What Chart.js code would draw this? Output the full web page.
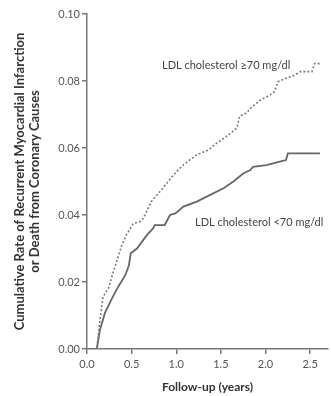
<!DOCTYPE html>
<html>
<head>
<meta charset="utf-8">
<script src="https://cdn.jsdelivr.net/npm/chart.js@4"></script>
<style>
  html, body { margin: 0; padding: 0; background: #fff; }
  #wrap { width: 331px; height: 396px; }
</style>
</head>
<body>
<div id="wrap"><canvas id="c" width="331" height="396"></canvas></div>
<script>
// Follow-up time (years) and cumulative rate, LDL cholesterol <70 mg/dl
const lowTime = [0, 0.11, 0.145, 0.20, 0.28, 0.35, 0.43, 0.47, 0.49, 0.56, 0.67, 0.74, 0.76, 0.87, 0.93, 0.99, 1.08, 1.23, 1.38, 1.53, 1.64, 1.75, 1.83, 1.86, 2.01, 2.16, 2.23, 2.25, 2.61];
const lowRate = [0, 0, 0.0057, 0.0107, 0.0151, 0.0186, 0.0221, 0.025, 0.0286, 0.0300, 0.0340, 0.036, 0.037, 0.037, 0.040, 0.0405, 0.0425, 0.044, 0.046, 0.048, 0.050, 0.0524, 0.0534, 0.0544, 0.0549, 0.0559, 0.0564, 0.0584, 0.0584];
// LDL cholesterol >=70 mg/dl
const highTime = [0, 0.11, 0.145, 0.18, 0.24, 0.29, 0.39, 0.44, 0.52, 0.59, 0.63, 0.72, 0.85, 0.97, 1.08, 1.23, 1.36, 1.45, 1.56, 1.68, 1.71, 1.79, 1.83, 1.94, 2.05, 2.10, 2.14, 2.23, 2.33, 2.39, 2.52, 2.55, 2.62];
const highRate = [0, 0, 0.0087, 0.0156, 0.0181, 0.0226, 0.031, 0.034, 0.0375, 0.038, 0.039, 0.044, 0.048, 0.052, 0.055, 0.058, 0.0594, 0.0614, 0.0634, 0.066, 0.0695, 0.0705, 0.0718, 0.0743, 0.0758, 0.0768, 0.0798, 0.0808, 0.0818, 0.0828, 0.0828, 0.0852, 0.0852];

const seriesLabels = ['LDL cholesterol \u226570 mg/dl', 'LDL cholesterol <70 mg/dl'];
// anchor of each series label (left edge, vertical centre) in data units
const labelTime = [0.84, 1.21];
const labelRate = [0.0845, 0.0379];

const xTicks = [0, 0.5, 1.0, 1.5, 2.0, 2.5];
const yTicks = [0, 0.02, 0.04, 0.06, 0.08, 0.10];
const xTitle = 'Follow-up (years)';
const yTitle = ['Cumulative Rate of Recurrent Myocardial Infarction', 'or Death from Coronary Causes'];

const toPts = (xs, ys) => xs.map((x, i) => ({x: x, y: ys[i]}));
const FONT = 'Lato, "Open Sans", sans-serif';

const labelPlugin = {
  id: 'seriesLabels',
  afterDatasetsDraw(chart) {
    const ctx = chart.ctx;
    const xs = chart.scales.x, ys = chart.scales.y;
    ctx.save();
    ctx.font = '11px ' + FONT;
    ctx.fillStyle = '#444';
    ctx.textAlign = 'left';
    ctx.textBaseline = 'middle';
    seriesLabels.forEach((t, i) => {
      ctx.fillText(t, xs.getPixelForValue(labelTime[i]), ys.getPixelForValue(labelRate[i]));
    });
    ctx.restore();
  }
};

new Chart(document.getElementById('c'), {
  type: 'line',
  data: {
    datasets: [
      {
        label: seriesLabels[0],
        data: toPts(highTime, highRate),
        borderColor: '#7a7a7a',
        borderWidth: 1.6,
        borderDash: [2, 2],
        pointRadius: 0,
        tension: 0,
        fill: false
      },
      {
        label: seriesLabels[1],
        data: toPts(lowTime, lowRate),
        borderColor: '#666',
        borderWidth: 1.8,
        pointRadius: 0,
        tension: 0,
        fill: false
      }
    ]
  },
  options: {
    responsive: false,
    animation: false,
    devicePixelRatio: 1,
    layout: { padding: { top: 14, right: 3, left: 0, bottom: 0 } },
    plugins: { legend: { display: false }, tooltip: { enabled: false } },
    scales: {
      x: {
        type: 'linear',
        min: 0,
        max: 2.7,
        afterBuildTicks: s => { s.ticks = xTicks.map(v => ({value: v})); },
        afterFit: s => { s.height = 47; },
        border: { display: true, color: '#777', width: 1.5 },
        grid: { drawOnChartArea: false, drawTicks: true, tickLength: 5, color: '#777', lineWidth: 1.5 },
        ticks: {
          color: '#555',
          font: { family: FONT, size: 11 },
          padding: 4,
          maxRotation: 0,
          callback: v => Number(v).toFixed(1)
        },
        title: {
          display: true,
          text: xTitle,
          color: '#333',
          font: { family: FONT, size: 12, weight: 'bold' },
          padding: { top: 4, bottom: 2 }
        }
      },
      y: {
        type: 'linear',
        min: 0,
        max: 0.10,
        afterBuildTicks: s => { s.ticks = yTicks.map(v => ({value: v})); },
        afterFit: s => { s.width = 87; },
        border: { display: true, color: '#777', width: 1.5 },
        grid: { drawOnChartArea: false, drawTicks: true, tickLength: 5, color: '#777', lineWidth: 1.5 },
        ticks: {
          color: '#555',
          font: { family: FONT, size: 11 },
          padding: 2,
          callback: v => Number(v).toFixed(2)
        },
        title: {
          display: true,
          text: yTitle,
          color: '#333',
          font: { family: FONT, size: 13, weight: 'bold', lineHeight: 1.15 },
          padding: { top: 12.5, bottom: 0 }
        }
      }
    }
  },
  plugins: [labelPlugin]
});
</script>
</body>
</html>
